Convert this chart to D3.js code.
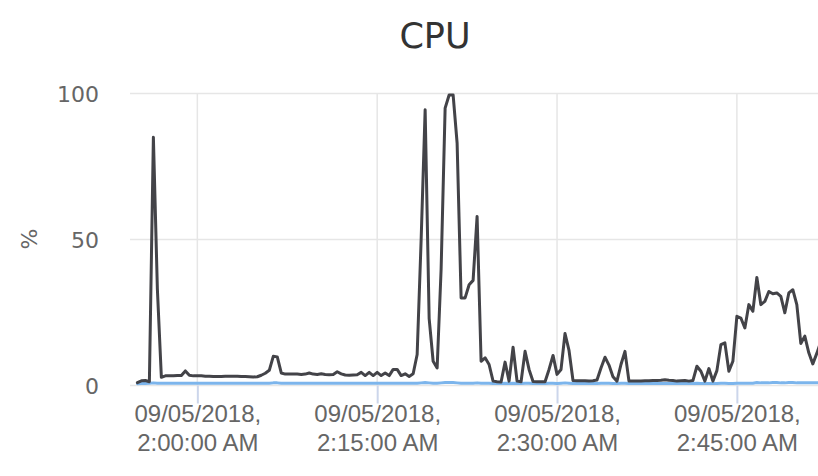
<!DOCTYPE html>
<html>
<head>
<meta charset="utf-8">
<script src="https://cdn.jsdelivr.net/npm/d3@7/dist/d3.min.js"></script>
<style>
  html, body { margin: 0; padding: 0; background: #ffffff; }
  svg { display: block; font-family: "Lucida Grande", "DejaVu Sans", sans-serif; }
</style>
</head>
<body>
<svg id="chart" width="818" height="476"></svg>
<script>
// ---------------- DATA ----------------
const chartTitle = "CPU";
const yAxisTitle = "%";
const sampleStart = "2018-09-05T01:55:00";   // first sample
const sampleStepSeconds = 20;                // sampling interval
const xDomain = ["2018-09-05T01:54:23", "2018-09-05T02:51:46"];
const xTickTimes = ["2018-09-05T02:00:00", "2018-09-05T02:15:00", "2018-09-05T02:30:00", "2018-09-05T02:45:00"];
const xTickLabels = [
  ["09/05/2018,", "2:00:00 AM"],
  ["09/05/2018,", "2:15:00 AM"],
  ["09/05/2018,", "2:30:00 AM"],
  ["09/05/2018,", "2:45:00 AM"]
];
const yTicks = [0, 50, 100];

// series 1 (light blue)
const seriesBlue = [
  0.6,0.7,0.7,0.8,0.9,0.8,0.8,0.8,0.8,0.8,0.8,0.8,0.8,0.8,0.8,0.8,0.8,0.8,0.8,0.8,
  0.8,0.8,0.8,0.8,0.8,0.8,0.8,0.8,0.8,0.8,0.8,0.8,0.8,0.8,0.9,0.9,0.8,0.8,0.8,0.8,
  0.8,0.8,0.8,0.8,0.8,0.8,0.8,0.8,0.8,0.8,0.8,0.8,0.8,0.8,0.8,0.8,0.8,0.8,0.8,0.8,
  0.8,0.8,0.8,0.8,0.8,0.8,0.8,0.8,0.8,0.8,0.8,0.9,1.0,0.9,0.8,0.8,0.9,1.0,1.0,1.0,
  0.9,0.8,0.8,0.8,0.8,0.9,0.8,0.8,0.8,0.7,0.7,0.7,0.8,0.7,0.8,0.7,0.7,0.8,0.8,0.7,
  0.7,0.7,0.7,0.8,0.8,0.7,0.8,0.9,0.8,0.7,0.7,0.7,0.7,0.7,0.7,0.7,0.8,0.8,0.8,0.7,
  0.7,0.8,0.8,0.7,0.7,0.7,0.7,0.7,0.7,0.7,0.7,0.7,0.7,0.7,0.7,0.7,0.7,0.7,0.7,0.7,
  0.8,0.7,0.7,0.7,0.7,0.7,0.8,0.8,0.7,0.7,0.8,0.8,0.8,0.8,0.8,1.0,0.9,0.9,0.9,1.0,
  1.0,0.9,0.9,1.0,1.0,0.9,0.9,0.9,0.9,0.9,0.9,0.9
];

// series 2 (dark grey)
const seriesDark = [
  1.0,1.6,1.7,1.3,85,33,2.8,3.3,3.3,3.3,3.4,3.4,5.0,3.5,3.3,3.3,3.3,3.2,3.2,3.1,
  3.1,3.1,3.2,3.2,3.2,3.2,3.1,3.1,3.0,2.9,3.0,3.5,4.2,5.2,10.0,9.8,4.3,3.9,3.9,3.9,
  3.9,3.8,3.9,4.3,3.9,3.8,4.0,3.8,3.7,3.8,4.7,4.0,3.6,3.5,3.6,3.7,4.5,3.4,4.5,3.4,
  4.5,3.4,4.3,3.4,5.5,5.5,3.4,4.0,3.1,4.0,10.6,50,94.4,23,8.3,6.0,40,95,99.5,99.5,
  83,30,30,34.5,36,57.9,8.3,9.5,7.2,1.5,1.3,1.2,8.0,1.5,13.1,1.5,1.3,11.7,5.5,1.4,
  1.3,1.3,1.3,5.5,10.3,3.8,5.5,17.8,12,1.7,1.6,1.6,1.6,1.5,1.6,1.9,6.0,9.7,7.0,3.0,
  1.5,7.2,11.7,1.5,1.5,1.5,1.5,1.6,1.6,1.7,1.7,1.8,2.0,1.8,1.7,1.5,1.6,1.7,1.5,1.7,
  6.6,4.9,1.5,5.8,1.5,5.1,14,14.6,4.9,8.3,23.7,23.1,19.7,27.7,25.4,37,27.7,28.8,32.2,31.4,
  31.7,30.5,24.9,31.7,32.8,27.7,14.4,16.9,11.2,7.4,11,15
];

// ---------------- CHART ----------------
const svg = d3.select("#chart");
const W = 818, H = 476;
const plot = { left: 130, right: 818, top: 93.5, bottom: 385.5 };

const parse = d3.isoParse;
const t0 = parse(sampleStart);
const timeAt = i => new Date(t0.getTime() + i * sampleStepSeconds * 1000);

const x = d3.scaleTime()
  .domain(xDomain.map(parse))
  .range([plot.left, plot.right]);
const y = d3.scaleLinear()
  .domain([0, 100])
  .range([plot.bottom, plot.top]);

const gridColor = "#e6e6e6";
const tickColor = "#ccd6eb";
const labelColor = "#666666";

// horizontal grid
svg.append("g")
  .selectAll("line")
  .data(yTicks)
  .join("line")
  .attr("x1", plot.left).attr("x2", plot.right)
  .attr("y1", d => y(d)).attr("y2", d => y(d))
  .attr("stroke", gridColor).attr("stroke-width", 1.5);

// vertical grid
svg.append("g")
  .selectAll("line")
  .data(xTickTimes.map(parse))
  .join("line")
  .attr("x1", d => x(d)).attr("x2", d => x(d))
  .attr("y1", plot.top).attr("y2", plot.bottom)
  .attr("stroke", gridColor).attr("stroke-width", 1.5);

// x axis (ticks)
const xAxis = d3.axisBottom(x)
  .tickValues(xTickTimes.map(parse))
  .tickSize(18)
  .tickSizeOuter(0)
  .tickFormat(() => "");
const gx = svg.append("g")
  .attr("transform", `translate(0,${plot.bottom})`)
  .call(xAxis);
gx.select(".domain").remove();
gx.selectAll(".tick line").attr("stroke", tickColor).attr("stroke-width", 2);
gx.selectAll(".tick text").remove();
gx.selectAll(".tick").each(function(d, i) {
  const t = d3.select(this).append("text")
    .attr("text-anchor", "middle")
    .attr("fill", labelColor)
    .attr("font-size", 24);
  t.append("tspan").attr("x", 0).attr("y", 36).text(xTickLabels[i][0]);
  t.append("tspan").attr("x", 0).attr("y", 65).text(xTickLabels[i][1]);
});

// y axis labels
const yAxis = d3.axisLeft(y)
  .tickValues(yTicks)
  .tickSize(0)
  .tickPadding(31)
  .tickFormat(d3.format("d"));
const gy = svg.append("g")
  .attr("transform", `translate(${plot.left},0)`)
  .call(yAxis);
gy.select(".domain").remove();
gy.selectAll(".tick text")
  .attr("fill", labelColor)
  .attr("font-size", 22)
  .attr("font-family", "\"Lucida Grande\", \"DejaVu Sans\", sans-serif")
  .attr("dy", "0.36em");

// clip
svg.append("clipPath").attr("id", "plotClip")
  .append("rect")
  .attr("x", plot.left).attr("y", 0)
  .attr("width", plot.right - plot.left).attr("height", plot.bottom + 10);

const line = d3.line()
  .x((d, i) => x(timeAt(i)))
  .y(d => y(d));

const lines = svg.append("g").attr("clip-path", "url(#plotClip)");
lines.append("path")
  .datum(seriesBlue)
  .attr("d", line)
  .attr("fill", "none")
  .attr("stroke", "#7cb5ec")
  .attr("stroke-width", 3)
  .attr("stroke-linejoin", "round")
  .attr("stroke-linecap", "round");
lines.append("path")
  .datum(seriesDark)
  .attr("d", line)
  .attr("fill", "none")
  .attr("stroke", "#434348")
  .attr("stroke-width", 3)
  .attr("stroke-linejoin", "round")
  .attr("stroke-linecap", "round");

// title
svg.append("text")
  .attr("x", 435).attr("y", 48)
  .attr("text-anchor", "middle")
  .attr("fill", "#333333")
  .attr("font-size", 35)
  .text(chartTitle);

// y axis title
svg.append("text")
  .attr("transform", "translate(29,239) rotate(-90)")
  .attr("text-anchor", "middle")
  .attr("dy", "0.36em")
  .attr("fill", labelColor)
  .attr("font-size", 22)
  .text(yAxisTitle);
</script>
</body>
</html>
